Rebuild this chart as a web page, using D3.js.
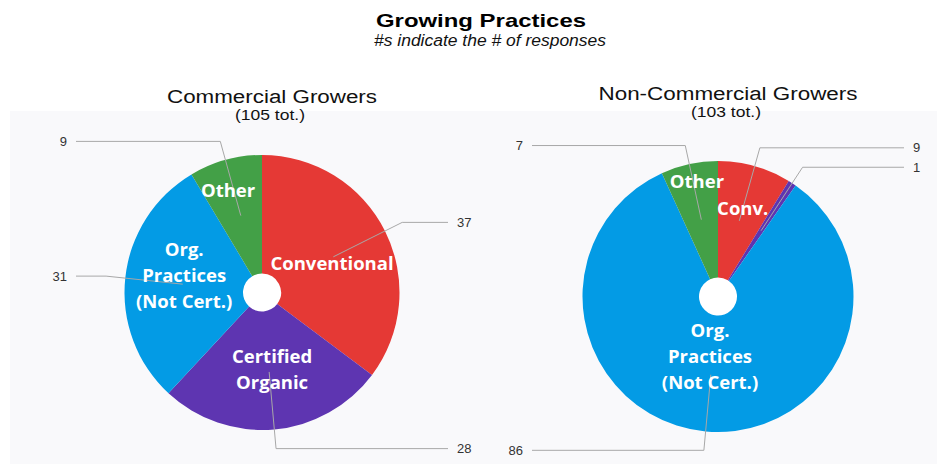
<!DOCTYPE html>
<html>
<head>
<meta charset="utf-8">
<script src="https://cdn.jsdelivr.net/npm/d3@7"></script>
<style>
  html, body {
    margin: 0;
    padding: 0;
    background: #fff;
  }

  svg {
    display: block;
  }

  .leader {
    fill: none;
    stroke: #a8a8a8;
    stroke-width: 1;
  }

  .num {
    font-family: "Liberation Sans", Arial, sans-serif;
    font-size: 13px;
    fill: #333;
  }

  .inside {
    font-family: "Open Sans", sans-serif;
    font-weight: bold;
    font-size: 18.5px;
    fill: #fff;
  }

  .head {
    font-family: "Liberation Sans", Arial, sans-serif;
    fill: #111;
  }
</style>
</head>
<body>
<svg id="chart" width="937" height="464"></svg>
<script>
//

const categories = ['Conventional', 'Certified Organic', 'Org. Practices (Not Cert.)', 'Other']
const commercialValues = [37, 28, 31, 9]
const nonCommercialValues = [9, 1, 86, 7]

const commercialSliceText = [['Conventional'], ['Certified', 'Organic'], ['Org.', 'Practices', '(Not Cert.)'], ['Other']]
const nonCommercialSliceText = [['Conv.'], [], ['Org.', 'Practices', '(Not Cert.)'], ['Other']]

const colors = ['#e53935', '#5e35b1', '#039be5', '#43a047']

const mainTitle = 'Growing Practices'
const subTitle = '#s indicate the # of responses'

//

const svg = d3.select('#chart')

svg.append('rect')
  .attr('x', 10)
  .attr('y', 111)
  .attr('width', 927)
  .attr('height', 353)
  .attr('fill', '#f9f9fb')

svg.append('text')
  .attr('class', 'head')
  .attr('x', 481)
  .attr('y', 27)
  .attr('text-anchor', 'middle')
  .attr('textLength', 210)
  .attr('lengthAdjust', 'spacingAndGlyphs')
  .style('font-weight', 'bold')
  .style('font-size', '19px')
  .style('fill', '#000')
  .text(mainTitle)

svg.append('text')
  .attr('class', 'head')
  .attr('x', 490)
  .attr('y', 46)
  .attr('text-anchor', 'middle')
  .attr('textLength', 232)
  .attr('lengthAdjust', 'spacingAndGlyphs')
  .style('font-style', 'italic')
  .style('font-size', '16px')
  .text(subTitle)

// one pie per grower group
const charts = [
  {
    title: 'Commercial Growers',
    values: commercialValues,
    sliceText: commercialSliceText,
    cx: 262, cy: 292.5, r: 137.5,
    titleY: 103, titleW: 210, totY: 120,
    textRadius: [0.55, 0.567, 0.58, 0.785],
    textTurn: [4.4, -2.3, 6.6, -2.9]
  },
  {
    title: 'Non-Commercial Growers',
    values: nonCommercialValues,
    sliceText: nonCommercialSliceText,
    cx: 718, cy: 296.5, r: 135.5,
    titleY: 100, titleW: 259, totY: 117,
    textRadius: [0.672, 0.6, 0.45, 0.866],
    textTurn: [0, 0, 2.3, 1.9]
  }
]

charts.forEach(function (c) {
  drawPie(c)
})

function drawPie (c) {
  const total = d3.sum(c.values)

  svg.append('text')
    .attr('class', 'head')
    .attr('x', c.cx + 10)
    .attr('y', c.titleY)
    .attr('text-anchor', 'middle')
    .attr('textLength', c.titleW)
    .attr('lengthAdjust', 'spacingAndGlyphs')
    .style('font-size', '18px')
    .text(c.title)

  svg.append('text')
    .attr('class', 'head')
    .attr('x', c.cx + 8)
    .attr('y', c.totY)
    .attr('text-anchor', 'middle')
    .attr('textLength', 70)
    .attr('lengthAdjust', 'spacingAndGlyphs')
    .style('font-size', '14px')
    .text('(' + total + ' tot.)')

  const g = svg.append('g')
    .attr('transform', 'translate(' + c.cx + ',' + c.cy + ')')

  const pie = d3.pie()
    .sort(null)
    .value(function (d) { return d })

  const arcs = pie(c.values)

  const arc = d3.arc()
    .innerRadius(19)
    .outerRadius(c.r)

  g.append('circle')
    .attr('r', 19)
    .attr('fill', '#fff')

  g.selectAll('.slice')
    .data(arcs)
    .enter().append('path')
    .attr('class', 'slice')
    .attr('d', arc)
    .attr('fill', function (d, i) { return colors[i] })
    .append('title')
    .text(function (d, i) { return categories[i] + ': ' + d.data })

  const polar = function (angle, rad) {
    return [Math.sin(angle) * rad, -Math.cos(angle) * rad]
  }

  // leader lines + numbers
  arcs.forEach(function (d) {
    const mid = (d.startAngle + d.endAngle) / 2
    const a = polar(mid, c.r * 0.58)
    const e = polar(mid, c.r * 1.14)
    const right = Math.sin(mid) > 0
    const endX = right ? 186 : -186

    g.append('path')
      .attr('class', 'leader')
      .attr('d', d3.line()([a, e, [endX, e[1]]]))

    g.append('text')
      .attr('class', 'num')
      .attr('x', right ? endX + 9 : endX - 9)
      .attr('y', e[1])
      .attr('dy', '0.35em')
      .attr('text-anchor', right ? 'start' : 'end')
      .text(d.data)
  })

  // white labels inside slices
  arcs.forEach(function (d, i) {
    const lines = c.sliceText[i]
    if (!lines.length) return
    const mid = (d.startAngle + d.endAngle) / 2 + c.textTurn[i] * Math.PI / 180
    const p = polar(mid, c.r * c.textRadius[i])
    const lh = 26

    const t = g.append('text')
      .attr('class', 'inside')
      .attr('text-anchor', 'middle')

    lines.forEach(function (s, k) {
      t.append('tspan')
        .attr('x', p[0])
        .attr('y', p[1] + (k - (lines.length - 1) / 2) * lh)
        .attr('dy', '0.35em')
        .text(s)
    })
  })
}
</script>
</body>
</html>
